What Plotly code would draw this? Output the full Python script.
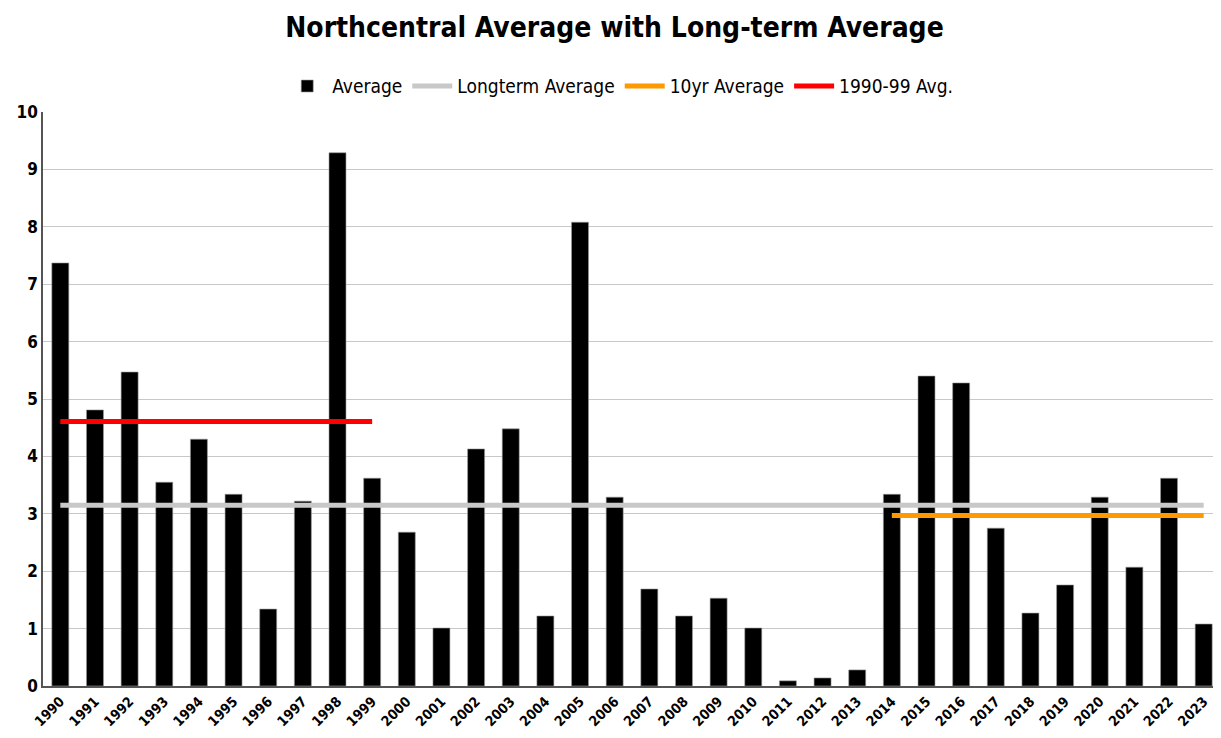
import plotly.graph_objects as go

years = [str(y) for y in range(1990, 2024)]
average = [7.37, 4.81, 5.47, 3.55, 4.30, 3.34, 1.34, 3.22, 9.29, 3.62,
           2.68, 1.01, 4.13, 4.48, 1.22, 8.08, 3.29, 1.69, 1.22, 1.53,
           1.01, 0.09, 0.14, 0.28, 3.34, 5.40, 5.28, 2.75, 1.27, 1.76,
           3.29, 2.07, 3.62, 1.08]
longterm_years = years
longterm_value = 3.15
tenyr_years = years[24:]
tenyr_value = 2.97
nineties_years = years[:10]
nineties_value = 4.61

FONT = "DejaVu Sans Condensed, Liberation Sans Narrow, sans-serif"

fig = go.Figure()
fig.add_trace(go.Bar(x=years, y=average, name="Average",
                     marker=dict(color="black", line=dict(color="#9a9a9a", width=0.6))))
fig.add_trace(go.Scatter(x=longterm_years, y=[longterm_value] * len(longterm_years),
                         mode="lines", name="Longterm Average",
                         line=dict(color="#c8c8c8", width=5)))
fig.add_trace(go.Scatter(x=tenyr_years, y=[tenyr_value] * len(tenyr_years),
                         mode="lines", name="10yr Average",
                         line=dict(color="#ff9900", width=5)))
fig.add_trace(go.Scatter(x=nineties_years, y=[nineties_value] * len(nineties_years),
                         mode="lines", name="1990-99 Avg.",
                         line=dict(color="#ff0000", width=5)))

fig.update_layout(
    width=1213, height=721,
    margin=dict(l=35, r=0, t=104, b=43),
    paper_bgcolor="white", plot_bgcolor="white",
    font=dict(family=FONT, color="black"),
    title=dict(text="<b>Northcentral Average with Long-term Average</b>",
               x=0.5, xanchor="center", y=0.974, yanchor="middle",
               font=dict(size=28, family=FONT, color="black")),
    legend=dict(orientation="h", x=0.49, xanchor="center", y=1.045, yanchor="middle",
                font=dict(size=19, family=FONT, color="black"), itemwidth=40,
                traceorder="normal"),
    bargap=0.51,
    showlegend=True,
)
fig.update_xaxes(type="category", tickangle=-45, showgrid=False,
                 showline=True, linecolor="#555555", linewidth=1.5,
                 ticks="", tickfont=dict(size=14, family=FONT, color="black", weight="bold"))
fig.update_yaxes(range=[0, 10], dtick=1, showgrid=True, gridcolor="#c8c8c8", gridwidth=1,
                 showline=True, linecolor="#555555", linewidth=1.5, zeroline=False,
                 ticks="", tickfont=dict(size=17, family=FONT, color="black", weight="bold"))

fig.write_html("out.html")
